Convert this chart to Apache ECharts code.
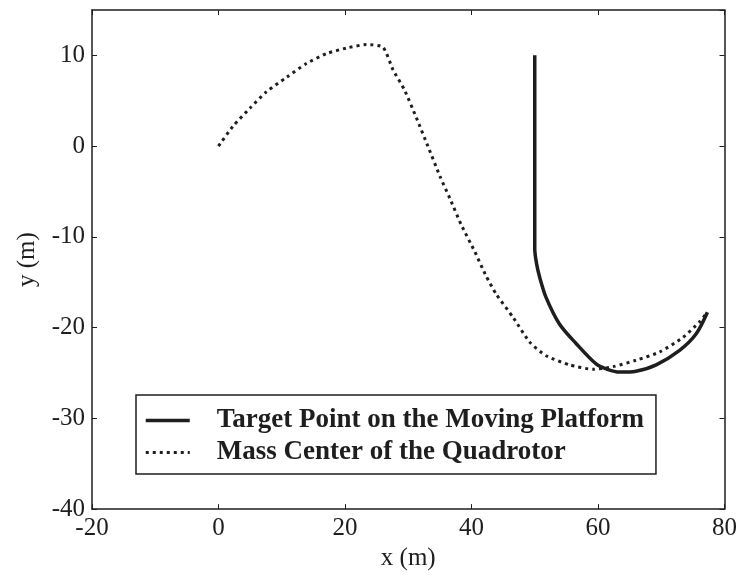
<!DOCTYPE html>
<html>
<head>
<meta charset="utf-8">
<script src="https://cdn.jsdelivr.net/npm/echarts@6/dist/echarts.min.js"></script>
<style>html,body{margin:0;padding:0;background:#fff;}#c{width:740px;height:576px;}</style>
</head>
<body>
<div id="c"></div>
<script>
var targetName = 'Target Point on the Moving Platform';
var quadName = 'Mass Center of the Quadrotor';
var targetX = [50, 50, 50.3, 50.8, 51.8, 53.9, 56.6, 59.7, 61.5, 63.4, 66, 69.2, 72.9, 75.5, 77.3];
var targetY = [10, -11.3, -13, -14.5, -16.7, -19.6, -21.8, -24, -24.6, -24.9, -24.8, -24.1, -22.5, -20.7, -18.3];
var quadX = [0, 2.3, 5, 7.6, 10.8, 13.9, 17.1, 20.2, 23.4, 26, 27.6, 29.4, 31.3, 33.1, 35, 36.6, 38.4, 40.5, 42.3, 43.9, 46.6, 49.2, 51.8, 55.5, 59.2, 62.4, 66, 69.7, 73.4, 76, 77.3];
var quadY = [0, 2.2, 4.2, 6, 7.6, 9.1, 10.2, 10.8, 11.2, 10.9, 8.4, 6.2, 3.1, 0, -3.3, -5.8, -8.7, -11.6, -14.3, -16.3, -18.9, -21.6, -23.1, -24.1, -24.6, -24.3, -23.6, -22.7, -21.1, -19.4, -18.3];
var xMin = -20, xMax = 80, xStep = 20;
var yMin = -40, yMax = 15, yStep = 10;

function pairs(xs, ys) { return xs.map(function (x, i) { return [x, ys[i]]; }); }

var ink = '#1e1e1e';
var font = '"Liberation Serif", "Times New Roman", serif';
var axisCommon = {
  type: 'value',
  axisLine: { show: true, onZero: false, lineStyle: { color: ink, width: 1.5 } },
  axisTick: { show: true, inside: true, length: 5, lineStyle: { color: ink, width: 1 } },
  splitLine: { show: false }
};
function ax(extra) { return Object.assign({}, JSON.parse(JSON.stringify(axisCommon)), extra); }

var chart = echarts.init(document.getElementById('c'), null, { renderer: 'canvas' });
chart.setOption({
  animation: false,
  backgroundColor: '#fff',
  grid: { left: 92, right: 15, top: 10, bottom: 64, containLabel: false },
  xAxis: [
    ax({ min: xMin, max: xMax, interval: xStep, position: 'bottom', name: 'x (m)', nameLocation: 'middle', nameGap: 36,
      nameTextStyle: { fontFamily: font, fontSize: 25, color: ink },
      axisLabel: { fontFamily: font, fontSize: 25, color: ink, margin: 7 } }),
    ax({ min: xMin, max: xMax, interval: xStep, position: 'top', axisLabel: { show: false } })
  ],
  yAxis: [
    ax({ min: yMin, max: yMax, interval: yStep, position: 'left', name: 'y (m)', nameLocation: 'middle', nameGap: 52, nameRotate: 90,
      nameTextStyle: { fontFamily: font, fontSize: 25, color: ink },
      axisLabel: { fontFamily: font, fontSize: 25, color: ink, margin: 7, showMaxLabel: false } }),
    ax({ min: yMin, max: yMax, interval: yStep, position: 'right', axisLabel: { show: false } })
  ],
  legend: {
    orient: 'vertical', left: 136, top: 395,
    backgroundColor: '#fff',
    borderColor: ink, borderWidth: 1.5,
    padding: [12, 12, 8, 8],
    itemWidth: 44, itemHeight: 30, itemGap: 5,
    itemStyle: { color: 'rgba(0,0,0,0)', borderColor: 'rgba(0,0,0,0)', borderWidth: 0, opacity: 0 },
    textStyle: { fontFamily: font, fontSize: 27, fontWeight: 'bold', color: ink, padding: [0, 0, 0, 22], width: 428 },
    data: [
      { name: targetName, lineStyle: { color: ink, width: 3.5, type: 'solid' } },
      { name: quadName, lineStyle: { color: ink, width: 3, type: [3, 4] } }
    ]
  },
  series: [
    { name: targetName, type: 'line', data: pairs(targetX, targetY), showSymbol: false, symbol: 'none', smooth: 0.3,
      lineStyle: { color: ink, width: 3.5, type: 'solid' }, itemStyle: { color: ink } },
    { name: quadName, type: 'line', data: pairs(quadX, quadY), showSymbol: false, symbol: 'none', smooth: 0.2,
      lineStyle: { color: ink, width: 3, type: [3, 4] }, itemStyle: { color: ink } }
  ]
});
</script>
</body>
</html>
